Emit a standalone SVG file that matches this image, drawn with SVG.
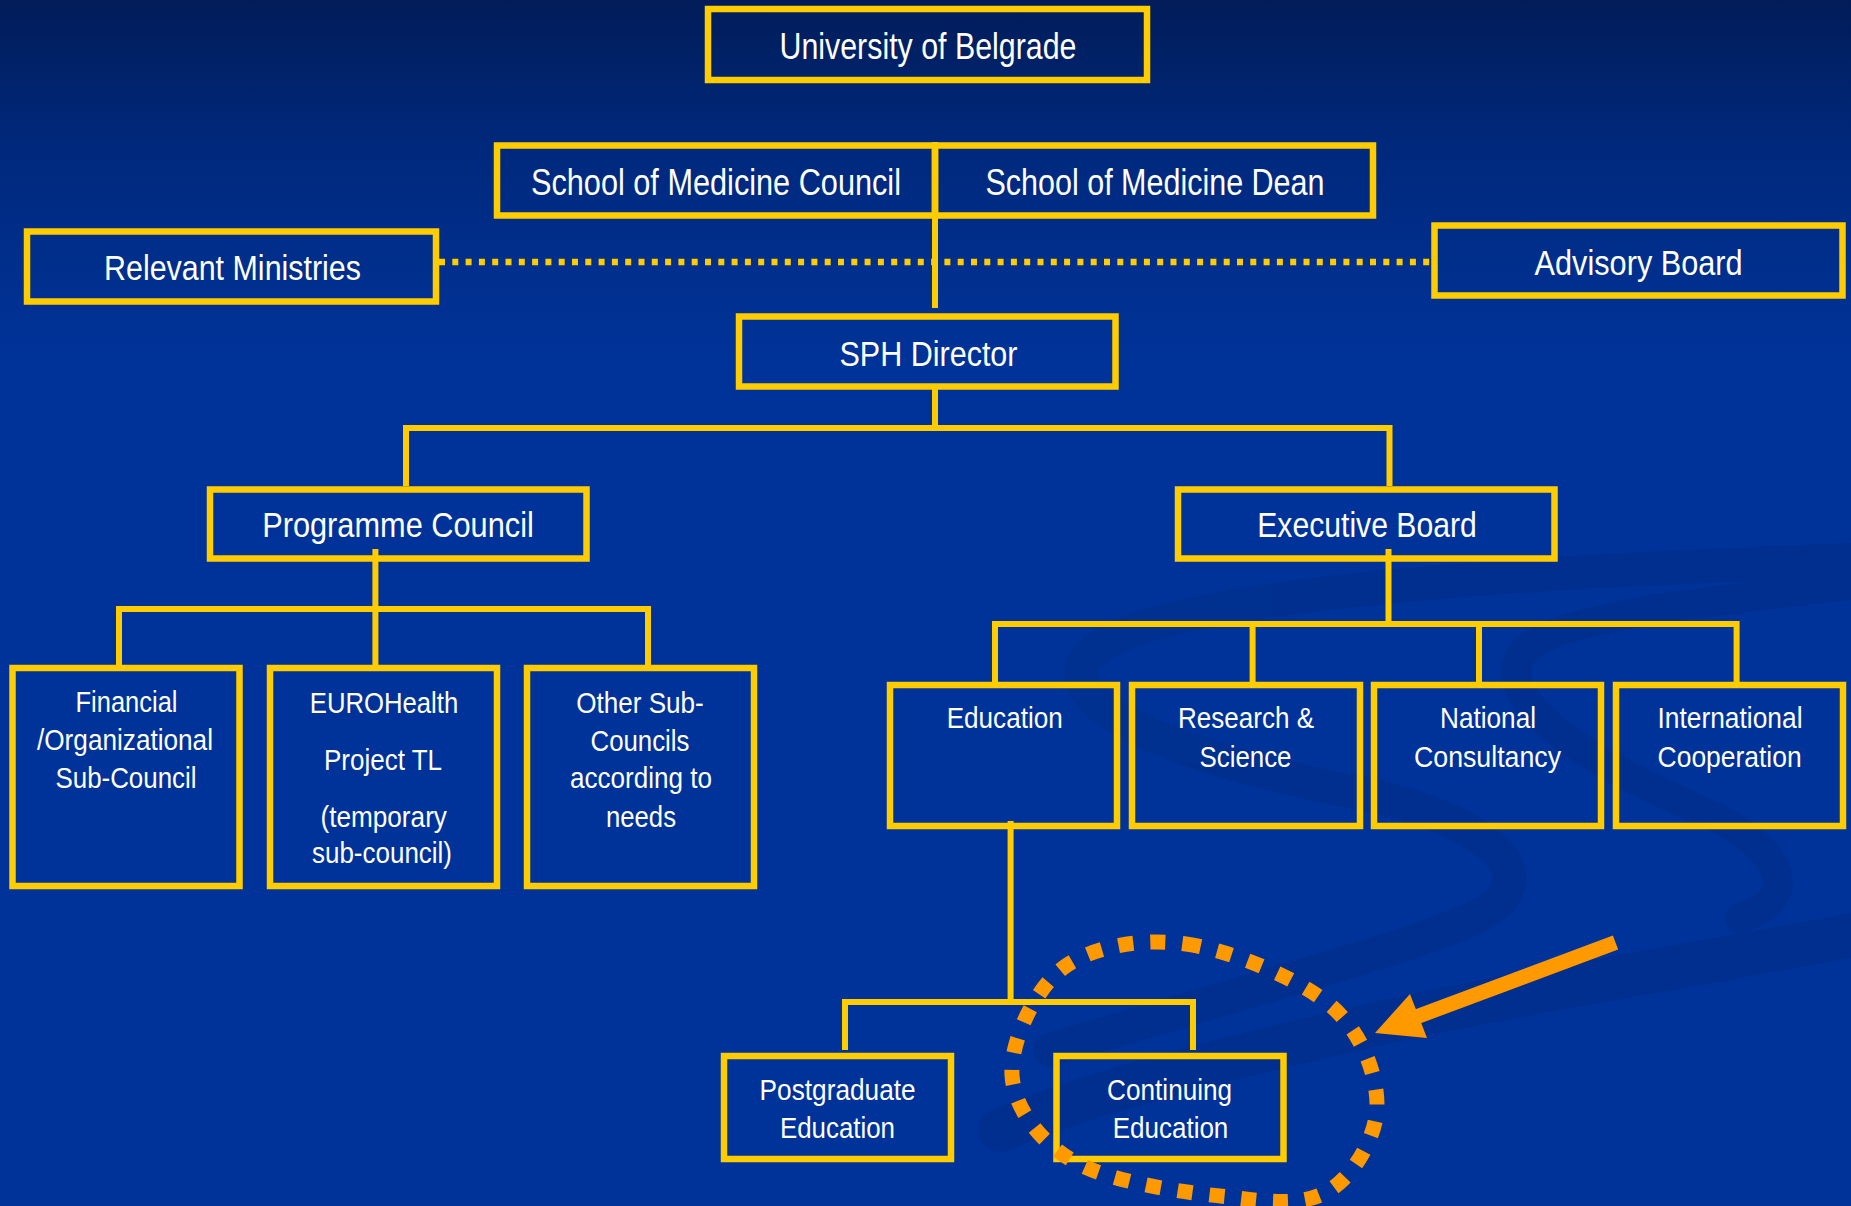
<svg xmlns="http://www.w3.org/2000/svg" width="1851" height="1206" viewBox="0 0 1851 1206">
<defs>
<linearGradient id="bg" x1="0" y1="0" x2="0" y2="1">
<stop offset="0" stop-color="#011c58"/>
<stop offset="0.125" stop-color="#00297d"/>
<stop offset="0.3" stop-color="#003399"/>
<stop offset="1" stop-color="#003399"/>
</linearGradient>
<style>
.box{fill:none;stroke:#FFCC00;stroke-width:6.5}
.con{fill:none;stroke:#FFCC00;stroke-width:6;stroke-linejoin:miter}
.dot{fill:none;stroke:#FFCC00;stroke-width:6.7;stroke-dasharray:6 7.3}
.sw{fill:none;stroke:#002d88;stroke-linecap:round}
text{font-family:"Liberation Sans Narrow","Liberation Sans",Arial,sans-serif;fill:#FFFFFF;text-anchor:middle}
.t1{font-size:37px}
.t2{font-size:35px}
.t3{font-size:30px}
</style>
</defs>
<rect x="0" y="0" width="1851" height="1206" fill="url(#bg)"/>
<g id="background-swooshes" opacity="0.5">
<path class="sw" stroke-width="34" d="M1851 560 C1600 570 1220 585 1110 640 C1020 690 1150 755 1370 795 C1500 825 1545 880 1480 915 C1420 945 1300 975 1050 1050"/>
<path class="sw" stroke-width="30" d="M1851 585 C1720 600 1560 615 1525 650 C1490 690 1560 750 1700 810 C1790 850 1800 900 1740 918"/>
<path class="sw" stroke-width="44" d="M1851 935 C1700 965 1500 995 1350 1030 C1200 1065 1100 1090 1000 1130"/>
</g>
<g id="connectors">
<path class="con" d="M935 142 V308"/>
<path class="dot" d="M439 262 H1431"/>
<path class="con" d="M935 385 V428"/>
<path class="con" d="M406 486 V428 H1389.5 V486"/>
<path class="con" d="M375.4 549 V609"/>
<path class="con" d="M119 665 V609 H648 V665"/>
<path class="con" d="M375.4 609 V665"/>
<path class="con" d="M1388.5 549 V624"/>
<path class="con" d="M995 682 V624 H1736.6 V682"/>
<path class="con" d="M1252.6 624 V682"/>
<path class="con" d="M1479 624 V682"/>
<path class="con" d="M1010.6 821 V1002"/>
<path class="con" d="M845 1050 V1002 H1193 V1050"/>
</g>
<g id="node-university">
<rect class="box" x="708" y="9" width="439" height="71"/>
<text class="t1" x="928" y="59.3" textLength="297" lengthAdjust="spacingAndGlyphs">University of Belgrade</text>
</g>
<g id="node-som-council">
<rect class="box" x="497" y="145.5" width="438" height="70"/>
<text class="t1" x="716" y="195" textLength="370" lengthAdjust="spacingAndGlyphs">School of Medicine Council</text>
</g>
<g id="node-som-dean">
<rect class="box" x="935" y="145.5" width="438" height="70"/>
<text class="t1" x="1155" y="195" textLength="339" lengthAdjust="spacingAndGlyphs">School of Medicine Dean</text>
</g>
<g id="node-ministries">
<rect class="box" x="27" y="231.5" width="409" height="70"/>
<text class="t2" x="232.5" y="280" textLength="257" lengthAdjust="spacingAndGlyphs">Relevant Ministries</text>
</g>
<g id="node-advisory">
<rect class="box" x="1434.5" y="225.5" width="408" height="70"/>
<text class="t2" x="1638.6" y="275" textLength="208" lengthAdjust="spacingAndGlyphs">Advisory Board</text>
</g>
<g id="node-sph-director">
<rect class="box" x="739" y="316.5" width="376.5" height="70"/>
<text class="t2" x="928.5" y="365.7" textLength="178" lengthAdjust="spacingAndGlyphs">SPH Director</text>
</g>
<g id="node-programme-council">
<rect class="box" x="210" y="489.5" width="376.5" height="69"/>
<text class="t2" x="398" y="537.3" textLength="271.6" lengthAdjust="spacingAndGlyphs">Programme Council</text>
</g>
<g id="node-executive-board">
<rect class="box" x="1178" y="489.5" width="376.5" height="69"/>
<text class="t2" x="1367" y="537.3" textLength="219.6" lengthAdjust="spacingAndGlyphs">Executive Board</text>
</g>
<g id="node-financial">
<rect class="box" x="12.5" y="668" width="227" height="218"/>
<text class="t3" x="126.5" y="711.7" textLength="102" lengthAdjust="spacingAndGlyphs">Financial</text>
<text class="t3" x="125" y="750" textLength="176" lengthAdjust="spacingAndGlyphs">/Organizational</text>
<text class="t3" x="126" y="788.3" textLength="141" lengthAdjust="spacingAndGlyphs">Sub-Council</text>
</g>
<g id="node-eurohealth">
<rect class="box" x="270" y="668" width="227" height="218"/>
<text class="t3" x="384" y="712.7" textLength="148.5" lengthAdjust="spacingAndGlyphs">EUROHealth</text>
<text class="t3" x="383" y="770" textLength="118" lengthAdjust="spacingAndGlyphs">Project TL</text>
<text class="t3" x="383.7" y="826.7" textLength="126.5" lengthAdjust="spacingAndGlyphs">(temporary</text>
<text class="t3" x="382" y="863.3" textLength="140" lengthAdjust="spacingAndGlyphs">sub-council)</text>
</g>
<g id="node-other-subcouncils">
<rect class="box" x="527" y="668" width="227" height="218"/>
<text class="t3" x="640" y="712.7" textLength="127.5" lengthAdjust="spacingAndGlyphs">Other Sub-</text>
<text class="t3" x="640" y="751" textLength="99" lengthAdjust="spacingAndGlyphs">Councils</text>
<text class="t3" x="641" y="788.3" textLength="142" lengthAdjust="spacingAndGlyphs">according to</text>
<text class="t3" x="641" y="826.7" textLength="70" lengthAdjust="spacingAndGlyphs">needs</text>
</g>
<g id="node-education">
<rect class="box" x="890" y="685" width="227" height="141"/>
<text class="t3" x="1004.7" y="728.3" textLength="116" lengthAdjust="spacingAndGlyphs">Education</text>
</g>
<g id="node-research">
<rect class="box" x="1132" y="685" width="228" height="141"/>
<text class="t3" x="1246" y="728.3" textLength="136" lengthAdjust="spacingAndGlyphs">Research &amp;</text>
<text class="t3" x="1245.5" y="766.7" textLength="92" lengthAdjust="spacingAndGlyphs">Science</text>
</g>
<g id="node-national">
<rect class="box" x="1374" y="685" width="227" height="141"/>
<text class="t3" x="1488" y="728.3" textLength="96" lengthAdjust="spacingAndGlyphs">National</text>
<text class="t3" x="1487.5" y="766.7" textLength="147" lengthAdjust="spacingAndGlyphs">Consultancy</text>
</g>
<g id="node-international">
<rect class="box" x="1616" y="685" width="227" height="141"/>
<text class="t3" x="1730" y="728.3" textLength="145" lengthAdjust="spacingAndGlyphs">International</text>
<text class="t3" x="1729.6" y="766.7" textLength="144" lengthAdjust="spacingAndGlyphs">Cooperation</text>
</g>
<g id="node-postgraduate">
<rect class="box" x="724" y="1056" width="227" height="103"/>
<text class="t3" x="837.6" y="1100" textLength="156" lengthAdjust="spacingAndGlyphs">Postgraduate</text>
<text class="t3" x="837.5" y="1138.3" textLength="115" lengthAdjust="spacingAndGlyphs">Education</text>
</g>
<g id="node-continuing">
<rect class="box" x="1056.5" y="1056" width="227" height="103"/>
<text class="t3" x="1169.6" y="1100" textLength="125" lengthAdjust="spacingAndGlyphs">Continuing</text>
<text class="t3" x="1170.5" y="1138.3" textLength="115.7" lengthAdjust="spacingAndGlyphs">Education</text>
</g>
<g id="highlight">
<path fill="none" stroke="#FF9900" stroke-width="15" stroke-dasharray="15 17" d="M1186 944 C1230.5 950.2 1298.2 978.2 1330 1005 C1361.8 1031.8 1377 1074.2 1377 1105 C1377 1135.8 1354.5 1174.5 1330 1190 C1305.5 1205.5 1272.5 1202.7 1230 1197 C1187.5 1193.3 1111.3 1182.5 1075 1162 C1038.7 1141.5 1014 1107.3 1012 1075 C1010 1042.7 1034 989.8 1063 968 C1092 946.2 1141.5 937.8 1186 944 Z"/>
<line x1="1615.5" y1="942.5" x2="1408" y2="1020" stroke="#FF9900" stroke-width="15"/>
<polygon points="1375,1033 1410,994 1427,1038" fill="#FF9900"/>
</g>
</svg>
